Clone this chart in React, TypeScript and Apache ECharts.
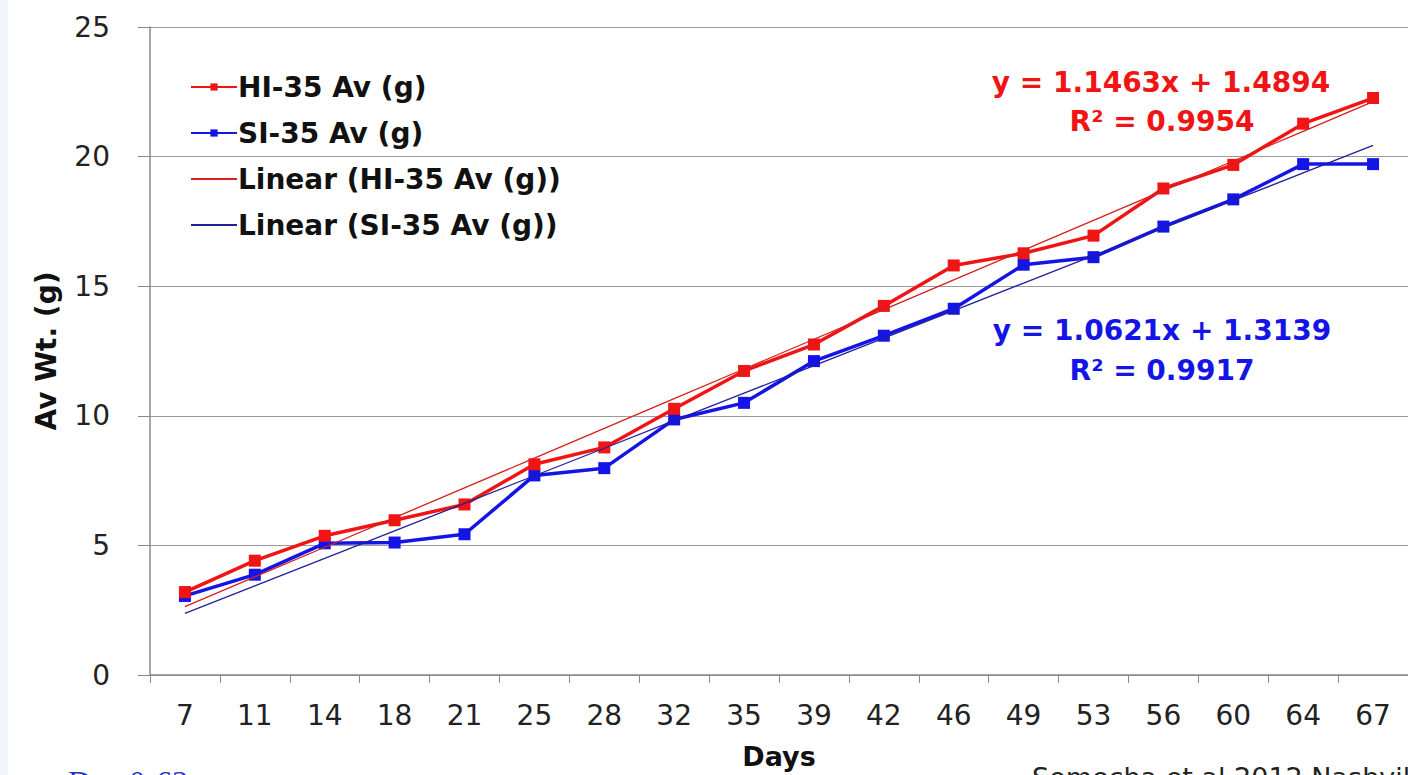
import React, { useEffect, useRef } from "react";
import * as echarts from "echarts";

const days = ["7", "11", "14", "18", "21", "25", "28", "32", "35", "39", "42", "46", "49", "53", "56", "60", "64", "67"];
const hiValues = [3.2, 4.41, 5.37, 5.97, 6.58, 8.13, 8.78, 10.27, 11.73, 12.75, 14.24, 15.8, 16.27, 16.95, 18.77, 19.68, 21.27, 22.26];
const siValues = [3.05, 3.87, 5.08, 5.11, 5.43, 7.7, 7.98, 9.86, 10.5, 12.11, 13.09, 14.13, 15.83, 16.12, 17.3, 18.35, 19.71, 19.71];
const hiTrend = { slope: 1.1463, intercept: 1.4894, r2: "0.9954" };
const siTrend = { slope: 1.0621, intercept: 1.3139, r2: "0.9917" };
const yTicks = { min: 0, max: 25, interval: 5 };

const FONT = "'DejaVu Sans', Verdana, sans-serif";
const RED = "#f01414";
const BLUE = "#1414e6";

export default function App() {
  const ref = useRef<HTMLDivElement>(null);
  useEffect(() => {
    if (!ref.current) return;
    const chart = echarts.init(ref.current, null, { renderer: "svg" });
    const hiLine = days.map((_, i) => +(hiTrend.slope * (i + 1) + hiTrend.intercept).toFixed(4));
    const siLine = days.map((_, i) => +(siTrend.slope * (i + 1) + siTrend.intercept).toFixed(4));
    chart.setOption({
      animation: false,
      backgroundColor: "#ffffff",
      grid: { left: 150, top: 27, width: 1260, height: 652, containLabel: false },
      legend: {
        orient: "vertical",
        left: 185,
        top: 67,
        itemWidth: 46,
        itemHeight: 9,
        itemGap: 16,
        textStyle: { fontFamily: FONT, fontWeight: "bold", fontSize: 28, color: "#111", lineHeight: 30, padding: [0, 0, 0, -4] },
        data: [
          { name: "HI-35 Av (g)" },
          { name: "SI-35 Av (g)" },
          { name: "Linear (HI-35 Av (g))", itemStyle: { opacity: 0 } },
          { name: "Linear (SI-35 Av (g))", itemStyle: { opacity: 0 } },
        ],
      },
      xAxis: {
        type: "category",
        data: days,
        boundaryGap: true,
        name: "Days",
        nameLocation: "middle",
        nameGap: 68,
        nameTextStyle: { fontFamily: FONT, fontWeight: "bold", fontSize: 27, color: "#111" },
        axisLine: { lineStyle: { color: "#8a8a8a", width: 1.5 } },
        axisTick: { show: true, length: 8, lineStyle: { color: "#8a8a8a" } },
        axisLabel: { fontFamily: FONT, fontSize: 28, color: "#222", margin: 26 },
      },
      yAxis: {
        type: "value",
        min: yTicks.min,
        max: yTicks.max,
        interval: yTicks.interval,
        name: "Av Wt. (g)",
        nameLocation: "middle",
        nameGap: 90,
        nameRotate: 90,
        nameTextStyle: { fontFamily: FONT, fontWeight: "bold", fontSize: 28, color: "#111" },
        axisLine: { show: true, lineStyle: { color: "#8a8a8a", width: 1.5 } },
        axisTick: { show: true, length: 12, lineStyle: { color: "#8a8a8a" } },
        axisLabel: { fontFamily: FONT, fontSize: 28, color: "#222", margin: 40 },
        splitLine: { lineStyle: { color: "#9a9a9a", width: 1 } },
      },
      series: [
        {
          name: "HI-35 Av (g)",
          type: "line",
          data: hiValues,
          symbol: "rect",
          symbolSize: 12,
          itemStyle: { color: RED },
          lineStyle: { color: RED, width: 3.5 },
          z: 4,
        },
        {
          name: "SI-35 Av (g)",
          type: "line",
          data: siValues,
          symbol: "rect",
          symbolSize: 12,
          itemStyle: { color: BLUE },
          lineStyle: { color: BLUE, width: 3.5 },
          z: 3,
        },
        {
          name: "Linear (HI-35 Av (g))",
          type: "line",
          data: hiLine,
          symbol: "none",
          itemStyle: { color: "#d81e1e" },
          lineStyle: { color: "#d81e1e", width: 1.3 },
          z: 5,
        },
        {
          name: "Linear (SI-35 Av (g))",
          type: "line",
          data: siLine,
          symbol: "none",
          itemStyle: { color: "#20209a" },
          lineStyle: { color: "#20209a", width: 1.3 },
          z: 5,
        },
      ],
      graphic: [
        { type: "rect", left: 0, top: 0, shape: { width: 8, height: 775 }, style: { fill: "#f2f5f9" }, z: 10 },
        {
          type: "text", x: 1161, y: 82,
          style: { text: `y = ${hiTrend.slope}x + ${hiTrend.intercept}`, fill: RED, font: `bold 28px ${FONT}`, textAlign: "center", textVerticalAlign: "middle" },
        },
        {
          type: "text", x: 1162, y: 121,
          style: { text: `R² = ${hiTrend.r2}`, fill: RED, font: `bold 28px ${FONT}`, textAlign: "center", textVerticalAlign: "middle" },
        },
        {
          type: "text", x: 1162, y: 330,
          style: { text: `y = ${siTrend.slope}x + ${siTrend.intercept}`, fill: BLUE, font: `bold 28px ${FONT}`, textAlign: "center", textVerticalAlign: "middle" },
        },
        {
          type: "text", x: 1162, y: 370,
          style: { text: `R² = ${siTrend.r2}`, fill: BLUE, font: `bold 28px ${FONT}`, textAlign: "center", textVerticalAlign: "middle" },
        },
        {
          type: "text", x: 68, y: 766,
          style: { text: "Day 0-63", fill: "#2233cc", font: `32px 'Liberation Serif', serif`, textAlign: "left", textVerticalAlign: "top" },
        },
        {
          type: "text", x: 1032, y: 764,
          style: { text: "Somecha et al 2012 Nashville", fill: "#222", font: `27px ${FONT}`, textAlign: "left", textVerticalAlign: "top" },
        },
      ],
    });
    return () => chart.dispose();
  }, []);
  return <div ref={ref} style={{ position: "fixed", left: 0, top: 0, width: 1408, height: 775 }} />;
}
